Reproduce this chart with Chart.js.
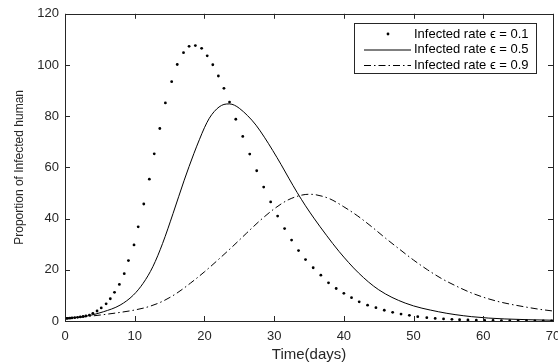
<!DOCTYPE html>
<html>
<head>
<meta charset="utf-8">
<script src="https://cdn.jsdelivr.net/npm/chart.js@4"></script>
<style>
  html, body { margin: 0; padding: 0; background: #fff; }
  #wrap { width: 558px; height: 364px; }
</style>
</head>
<body>
<div id="wrap"><canvas id="chart" width="558" height="364"></canvas></div>
<script>
// eps = 0.1 (dots, solver steps)
var dotDays = [0, 0.2, 0.4, 0.7, 1.0, 1.4, 1.8, 2.2, 2.6, 3.0, 3.5, 4.0, 4.6, 5.2, 5.9, 6.5, 7.1, 7.8, 8.5, 9.1,
    9.9, 10.5, 11.3, 12.1, 12.8, 13.6, 14.4, 15.3, 16.1, 17.0, 17.8, 18.7, 19.6, 20.4, 21.2, 22.0, 22.8, 23.6,
    24.5, 25.5, 26.5, 27.5, 28.5, 29.5, 30.5, 31.5, 32.5, 33.5, 34.5, 35.6, 36.7, 37.8, 38.9, 40.0, 41.1, 42.2,
    43.4, 44.6, 45.8, 47.0, 48.2, 49.4, 50.6, 51.9, 53.1, 54.3, 55.5, 56.6, 57.8, 59.0, 60.2, 61.4, 62.6, 63.8,
    65.0, 66.2, 67.4, 68.6, 69.8];
var dotRate = [1.0, 1.0, 1.05, 1.1, 1.2, 1.3, 1.45, 1.6, 1.75, 1.95, 2.3, 3.0, 3.9, 5.1, 6.7, 8.7, 11.2, 14.3, 18.5, 23.6,
    29.7, 36.8, 45.7, 55.4, 65.3, 75.2, 85.2, 93.5, 100.2, 104.8, 107.3, 107.6, 106.5, 103.6, 100.1, 95.7, 90.9, 85.5,
    78.8, 72.1, 65.2, 58.7, 52.3, 46.5, 41.0, 36.1, 31.6, 27.5, 24.0, 20.8, 17.9, 14.9, 12.7, 10.8, 9.1, 7.5,
    6.2, 5.2, 4.2, 3.4, 2.7, 2.2, 1.7, 1.3, 1.0, 0.8, 0.66, 0.52, 0.42, 0.34, 0.27, 0.22, 0.18, 0.14,
    0.11, 0.09, 0.07, 0.06, 0.05];

// eps = 0.5 (solid)
var solidDays = [0, 3.1, 5.5, 7.9, 9.8, 11.2, 12.6, 14.0, 15.5, 17.1, 18.5, 19.3, 20.0, 20.7, 21.4, 22.1, 22.8,
    23.6, 24.3, 25.0, 26.2, 27.4, 28.6, 29.8, 31.0, 32.1, 33.3, 34.5, 35.7, 37.5, 39.3, 42.1, 45.0, 48.8, 53.6,
    58.3, 63.1, 70];
var solidRate = [1.0, 1.9, 3.6, 6.2, 10.1, 14.7, 21.2, 30.3, 42.0, 55.0, 65.5, 71.0, 75.5, 79.2, 81.8, 83.6, 84.6,
    84.8, 84.3, 83.1, 80.2, 76.5, 71.8, 66.6, 61.1, 55.8, 50.2, 45.0, 40.2, 33.5, 27.2, 18.8, 12.2, 7.0, 3.6,
    1.7, 0.8, 0.3];

// eps = 0.9 (dash-dot)
var dashDays = [0, 4, 8, 10, 12, 14, 16, 18, 20, 22, 24, 26, 28, 30, 32, 34, 35, 36, 38, 40, 42, 44, 46, 48,
    50, 52, 54, 56, 58, 60, 62, 64, 66, 68, 70];
var dashRate = [1.0, 2.0, 3.4, 4.3, 5.6, 7.7, 10.8, 14.8, 19.2, 24.0, 29.0, 34.2, 39.3, 43.8, 47.3, 49.2, 49.5,
    49.3, 47.7, 44.6, 41.0, 36.8, 32.3, 28.0, 23.8, 20.0, 16.6, 13.8, 11.3, 9.3, 7.7, 6.5, 5.5, 4.6, 3.9];

var xTicks = [0, 10, 20, 30, 40, 50, 60, 70];
var yTicks = [0, 20, 40, 60, 80, 100, 120];
var labels = ['Infected rate \u03F5 = 0.1', 'Infected rate \u03F5 = 0.5', 'Infected rate \u03F5 = 0.9'];

function pts(xs, ys) {
    return xs.map(function (x, i) { return { x: x, y: ys[i] }; });
}

var FONT = '"Liberation Sans", Arial, sans-serif';
var AXIS = '#262626';

// box around the plot with inward ticks on all four sides
var boxPlugin = {
    id: 'box',
    afterDatasetsDraw: function (chart) {
        var ctx = chart.ctx, a = chart.chartArea;
        var xs = chart.scales.x, ys = chart.scales.y;
        var t = 5;
        ctx.save();
        ctx.strokeStyle = AXIS;
        ctx.lineWidth = 1;
        ctx.strokeRect(Math.round(a.left) + 0.5, Math.round(a.top) + 0.5,
            Math.round(a.right - a.left), Math.round(a.bottom - a.top));
        ctx.beginPath();
        xTicks.forEach(function (v) {
            var px = Math.round(xs.getPixelForValue(v)) + 0.5;
            ctx.moveTo(px, a.bottom); ctx.lineTo(px, a.bottom - t);
            ctx.moveTo(px, a.top); ctx.lineTo(px, a.top + t);
        });
        yTicks.forEach(function (v) {
            var py = Math.round(ys.getPixelForValue(v)) + 0.5;
            ctx.moveTo(a.left, py); ctx.lineTo(a.left + t, py);
            ctx.moveTo(a.right, py); ctx.lineTo(a.right - t, py);
        });
        ctx.stroke();
        ctx.restore();
    },
    afterDraw: function (chart) {
        // legend box, top right inside the axes
        var ctx = chart.ctx;
        var bx = 354, by = 23, bw = 182, bh = 50;
        ctx.save();
        ctx.fillStyle = '#fff';
        ctx.fillRect(bx, by, bw, bh);
        ctx.strokeStyle = AXIS;
        ctx.lineWidth = 1;
        ctx.strokeRect(bx + 0.5, by + 0.5, bw, bh);
        ctx.font = '13px ' + FONT;
        ctx.textBaseline = 'middle';
        ctx.fillStyle = '#000';
        chart.data.datasets.forEach(function (ds, i) {
            var y = by + 11 + i * 15.5;
            ctx.strokeStyle = '#000';
            if (ds.showLine === false) {
                ctx.beginPath();
                ctx.arc(388, y, ds.pointRadius, 0, Math.PI * 2);
                ctx.fill();
            } else {
                ctx.lineWidth = ds.borderWidth;
                ctx.setLineDash(ds.borderDash || []);
                ctx.beginPath();
                ctx.moveTo(364, y + 0.5); ctx.lineTo(411, y + 0.5);
                ctx.stroke();
                ctx.setLineDash([]);
            }
            ctx.fillText(ds.label, 414, y);
        });
        ctx.restore();
    }
};

var ctx = document.getElementById('chart').getContext('2d');
var chart = new Chart(ctx, {
    type: 'scatter',
    data: {
        datasets: [
            {
                label: labels[0],
                data: pts(dotDays, dotRate),
                showLine: false,
                pointRadius: 1.4,
                pointBackgroundColor: '#000',
                pointBorderWidth: 0,
                borderColor: '#000'
            },
            {
                label: labels[1],
                data: pts(solidDays, solidRate),
                showLine: true,
                borderColor: '#000',
                borderWidth: 1,
                pointRadius: 0,
                cubicInterpolationMode: 'monotone'
            },
            {
                label: labels[2],
                data: pts(dashDays, dashRate),
                showLine: true,
                borderColor: '#000',
                borderWidth: 1,
                borderDash: [7, 3, 1.5, 3],
                pointRadius: 0,
                cubicInterpolationMode: 'monotone'
            }
        ]
    },
    options: {
        responsive: false,
        animation: false,
        layout: { padding: { left: 0, right: 5, top: 13, bottom: 0 } },
        plugins: {
            legend: { display: false },
            tooltip: { enabled: false }
        },
        scales: {
            x: {
                type: 'linear',
                min: 0, max: 70,
                afterFit: function (s) { s.height = 43; s.paddingLeft = 0; s.paddingRight = 0; },
                grid: { display: false, drawTicks: false, tickLength: 0 },
                border: { display: false },
                ticks: {
                    stepSize: 10,
                    padding: 8,
                    color: '#262626',
                    font: { family: FONT, size: 13 }
                },
                title: {
                    display: true,
                    text: 'Time(days)',
                    color: '#262626',
                    padding: { top: 0, bottom: 0 },
                    font: { family: FONT, size: 15 }
                }
            },
            y: {
                min: 0, max: 120,
                afterFit: function (s) { s.width = 65; },
                grid: { display: false, drawTicks: false, tickLength: 0 },
                border: { display: false },
                ticks: {
                    stepSize: 20,
                    padding: 6,
                    color: '#262626',
                    font: { family: FONT, size: 13 }
                },
                title: {
                    display: true,
                    text: 'Proportion of Infected human',
                    color: '#262626',
                    padding: { top: 12, bottom: 0 },
                    font: { family: FONT, size: 12 }
                }
            }
        }
    },
    plugins: [boxPlugin]
});
</script>
</body>
</html>
